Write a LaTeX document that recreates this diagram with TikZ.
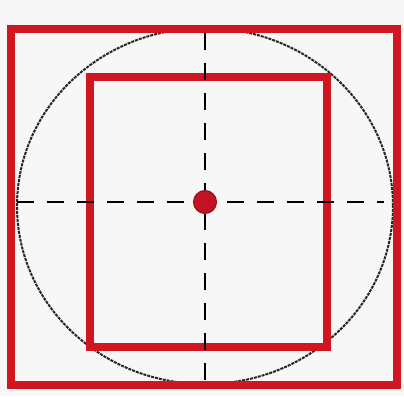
\documentclass[tikz,border=0pt]{standalone}
\usepackage{tikz}
\usetikzlibrary{shapes,positioning}
\definecolor{boxred}{RGB}{208,22,32}
\definecolor{dotred}{RGB}{196,18,36}
\definecolor{paper}{RGB}{247,247,247}

\begin{document}
\begin{tikzpicture}[x=1pt,y=-1pt]
\useasboundingbox[fill=paper] (0,0) rectangle (404,396);
\node (circ) [ellipse, draw=black!85, line width=2pt, dash pattern=on 3pt off 1pt, minimum width=376pt, minimum height=356pt, inner sep=0pt] at (205,206) {};
\node (outer) [rectangle, draw=boxred, line width=8pt, minimum width=386pt, minimum height=356pt, inner sep=0pt] at (204,207) {};
\node (inner) [rectangle, draw=boxred, line width=8pt, minimum width=237pt, minimum height=270pt, inner sep=0pt] at (208.5,212) {};
% axes
\coordinate (west) at (17,202);
\coordinate (east) at (384,202);
\coordinate (north) at (205,33);
\coordinate (south) at (205,382);
\draw[line width=2.8pt, dash pattern=on 17pt off 13pt] (west) -- (east);
\draw[line width=2.8pt, dash pattern=on 17pt off 13pt] (north) -- (south);
\node (centre) [circle, fill=dotred, draw=boxred!70!black, line width=1pt, minimum size=23pt, inner sep=0pt] at (205,202) {};
\end{tikzpicture}
\end{document}
